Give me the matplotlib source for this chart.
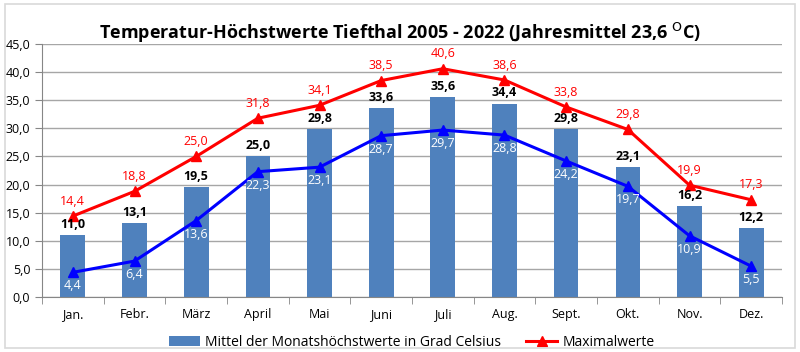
import numpy as np
import matplotlib
matplotlib.use('Agg')
import matplotlib.pyplot as plt
from matplotlib.patches import Rectangle

plt.rcParams['font.family'] = ['Open Sans', 'DejaVu Sans']

months = ['Jan.', 'Febr.', 'März', 'April', 'Mai', 'Juni', 'Juli', 'Aug.',
          'Sept.', 'Okt.', 'Nov.', 'Dez.']
mittel = [11.0, 13.1, 19.5, 25.0, 29.8, 33.6, 35.6, 34.4, 29.8, 23.1, 16.2, 12.2]
maxwerte = [14.4, 18.8, 25.0, 31.8, 34.1, 38.5, 40.6, 38.6, 33.8, 29.8, 19.9, 17.3]
blau = [4.4, 6.4, 13.6, 22.3, 23.1, 28.7, 29.7, 28.8, 24.2, 19.7, 10.9, 5.5]
yticks = np.arange(0, 46, 5)

def fmt(v):
    return ('%.1f' % v).replace('.', ',')

fig = plt.figure(figsize=(8, 3.52), dpi=100)
ax = fig.add_axes([0.0525, 0.156, 0.925, 0.719])
x = np.arange(len(months))

bars = ax.bar(x, mittel, width=0.4, color='#4F81BD', zorder=2,
              label='Mittel der Monatshöchstwerte in Grad Celsius')
line_max, = ax.plot(x, maxwerte, color='#FF0000', lw=2.2, marker='^', ms=7, zorder=3,
                    label='Maximalwerte')
ax.plot(x, blau, color='#0000FF', lw=2.2, marker='^', ms=7, zorder=3)

for i in range(len(x)):
    ax.annotate(fmt(mittel[i]), (x[i], mittel[i]), xytext=(0, 3), textcoords='offset points',
                ha='center', va='bottom', fontsize=9, fontweight='bold', color='black', zorder=4)
    ax.annotate(fmt(maxwerte[i]), (x[i], maxwerte[i]), xytext=(0, 6), textcoords='offset points',
                ha='center', va='bottom', fontsize=9, color='#FF0000', zorder=4)
    ax.annotate(fmt(blau[i]), (x[i], blau[i]), xytext=(0, -5), textcoords='offset points',
                ha='center', va='top', fontsize=9, color='white', zorder=4)

ax.set_xlim(-0.5, len(months) - 0.5)
ax.set_ylim(0, 45)
ax.set_yticks(yticks)
ax.set_yticklabels([fmt(v) for v in yticks], fontsize=9)
ax.set_xticks(x)
ax.set_xticklabels(months, fontsize=9)
ax.tick_params(axis='x', length=0, pad=8)
ax.set_xticks(np.arange(-0.5, len(months), 1), minor=True)
ax.tick_params(axis='x', which='minor', length=5, color='#868686')
ax.tick_params(axis='y', length=5, color='#868686')
ax.grid(axis='y', color='#A6A6A6', lw=1, zorder=0)
for s in ['top', 'right']:
    ax.spines[s].set_visible(False)
ax.spines['left'].set_color('#868686')
ax.spines['bottom'].set_color('#868686')

fig.text(0.5, 0.905, 'Temperatur-Höchstwerte Tiefthal 2005 - 2022 (Jahresmittel 23,6 $^{\\mathsf{O}}$C)',
         ha='center', va='center', fontsize=13, fontweight='bold')

ax.legend([bars, line_max], [bars.get_label(), line_max.get_label()],
          loc='upper center', bbox_to_anchor=(0.5, -0.1), ncol=2, frameon=False,
          fontsize=10, handlelength=2.2, handletextpad=0.4, columnspacing=1.8)

fig.patches.append(Rectangle((0.006, 0.012), 0.988, 0.976, transform=fig.transFigure,
                             fill=False, edgecolor='#D9D9D9', lw=1.2))

fig.savefig('out.png', dpi=100)
